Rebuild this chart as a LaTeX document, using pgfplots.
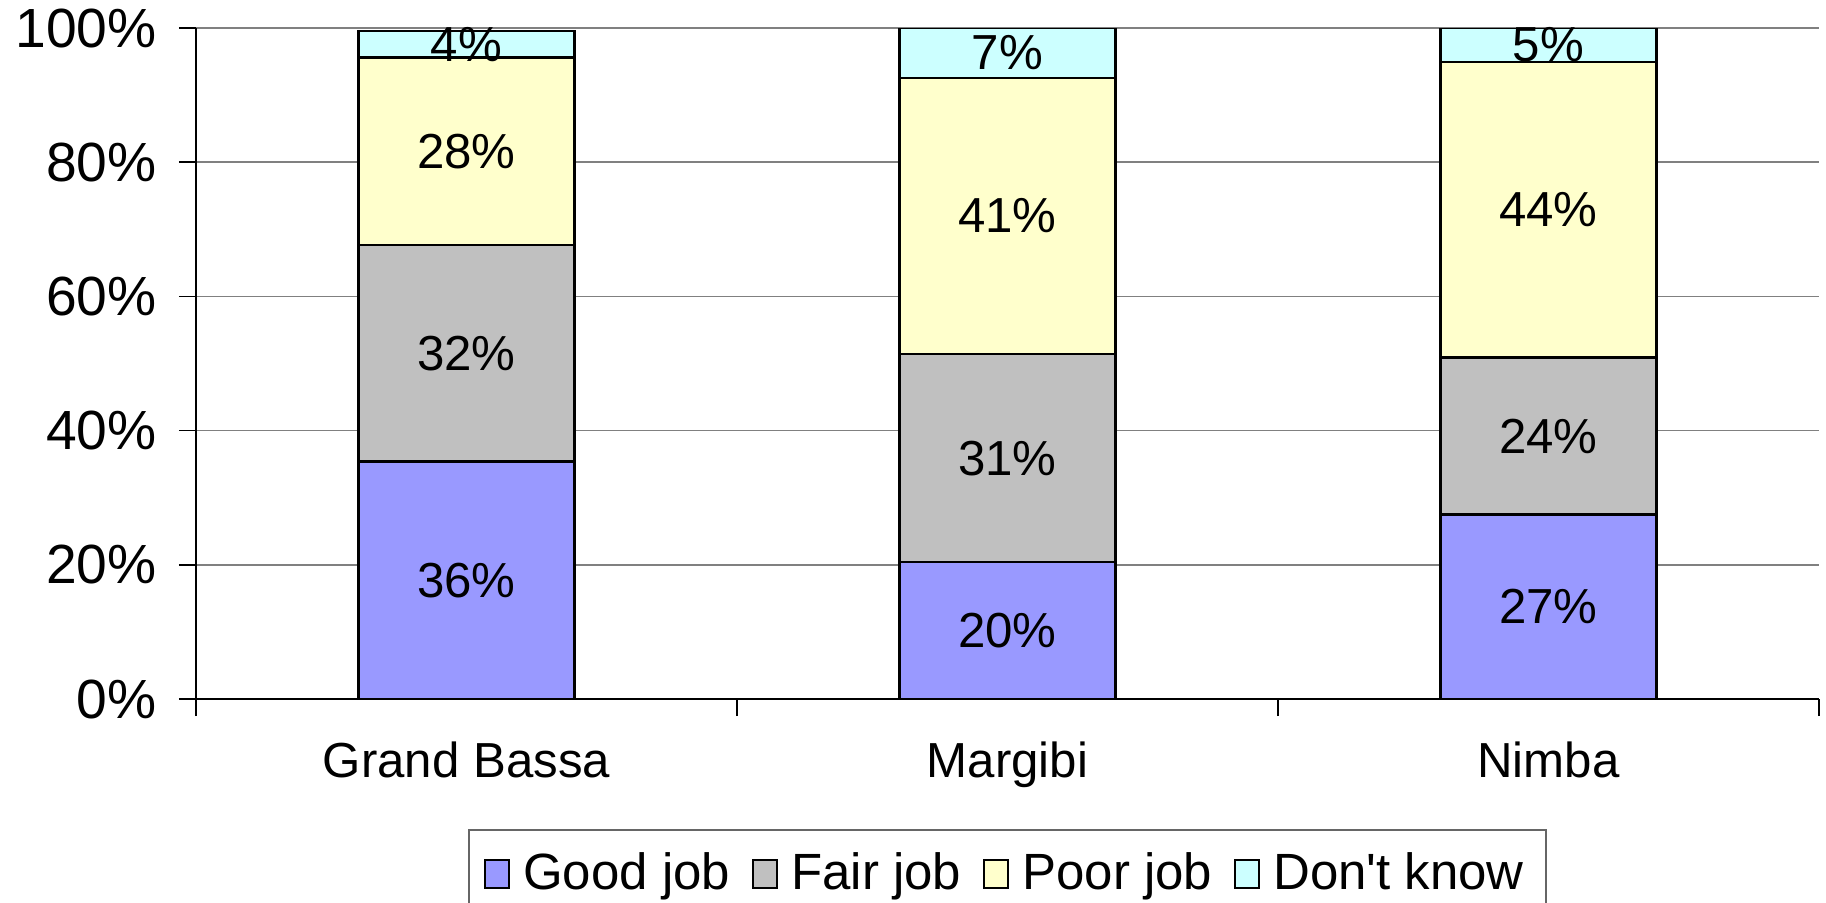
\documentclass[border=0pt]{standalone}
\usepackage{pgfplots}
\pgfplotsset{compat=1.18}
\usepackage{pgfplotstable}
\usepackage{fontspec}
\setmainfont{Liberation Sans}
\definecolor{cgood}{HTML}{9999FF}
\definecolor{cfair}{HTML}{C0C0C0}
\definecolor{cpoor}{HTML}{FFFFCC}
\definecolor{cdk}{HTML}{CCFFFF}
\newcommand\fa{\fontsize{14pt}{16pt}\selectfont}
\newcommand\fl{\fontsize{14.5pt}{16pt}\selectfont}
\newcommand\fb{\fontsize{15.7pt}{18pt}\selectfont}

\pgfplotstableread{
x good fair poor dk
0 35.4 32.2 28.0 4.0
1 20.4 31.0 41.2 7.4
2 27.5 23.4 44.0 5.1
}\bars

\pgfplotstableread{
x y lab
0 17.7 36
0 51.5 32
0 81.6 28
0 97.6 4
1 10.2 20
1 35.9 31
1 72.0 41
1 96.3 7
2 13.75 27
2 39.2 24
2 72.9 44
2 97.5 5
}\labs

\pgfplotsset{
  mybar/.style={fill=#1, draw=black, line width=0.6pt,
    legend image code/.code={\draw[fill=#1, draw=black, line width=0.6pt] (0cm,-0.14cm) rectangle (0.24cm,0.14cm);}},
}

\begin{document}
\begin{tikzpicture}
\begin{axis}[
  name=main,
  scale only axis, width=162.3mm, height=67.1mm,
  xmin=-0.5, xmax=2.5, ymin=0, ymax=100,
  ybar stacked, bar width=21.6mm,
  axis x line*=bottom, axis y line*=left,
  axis line style={line width=0.6pt, black},
  tick align=outside, major tick length=1.7mm,
  tick style={black, line width=0.5pt},
  ytick={0,20,40,60,80,100},
  yticklabels={0\%,20\%,40\%,60\%,80\%,100\%},
  yticklabel style={font=\fb, xshift=-1.0mm},
  xtick={-0.5,0.5,1.5,2.5}, xticklabels={},
  extra x ticks={0,1,2},
  extra x tick labels={Grand Bassa,Margibi,Nimba},
  extra x tick style={major tick length=0pt, grid=none, xticklabel style={font=\fa, yshift=-3mm}},
  ymajorgrids, major grid style={gray, line width=0.5pt},
  legend columns=4,
  legend style={at={(0.5,-0.1937)}, anchor=north, draw=gray!80!black, line width=0.5pt,
    font=\fl, inner xsep=1.5mm, inner ysep=1.6mm,
    /tikz/every odd column/.append style={column sep=0.6mm},
    /tikz/every even column/.append style={column sep=1.5mm}},
  legend cell align=left,
]
\addplot[mybar=cgood] table[x=x,y=good]{\bars};
\addplot[mybar=cfair] table[x=x,y=fair]{\bars};
\addplot[mybar=cpoor] table[x=x,y=poor]{\bars};
\addplot[mybar=cdk] table[x=x,y=dk]{\bars};
\legend{Good job,Fair job,Poor job,Don\textquotesingle t know}
\end{axis}
\begin{axis}[
  at={(main.south west)}, anchor=south west,
  scale only axis, width=162.3mm, height=67.1mm,
  xmin=-0.5, xmax=2.5, ymin=0, ymax=100,
  hide axis, clip=false,
  point meta=explicit symbolic,
  nodes near coords={\pgfplotspointmeta\%},
  every node near coord/.append style={anchor=center, font=\fa, inner sep=0pt},
]
\addplot[draw=none, mark=none] table[x=x,y=y,meta=lab]{\labs};
\end{axis}
\pgfresetboundingbox
\path[use as bounding box] (main.south west) ++(-19.6mm,-20.3mm) rectangle ++(182.6mm,90.2mm);
\end{tikzpicture}
\end{document}
